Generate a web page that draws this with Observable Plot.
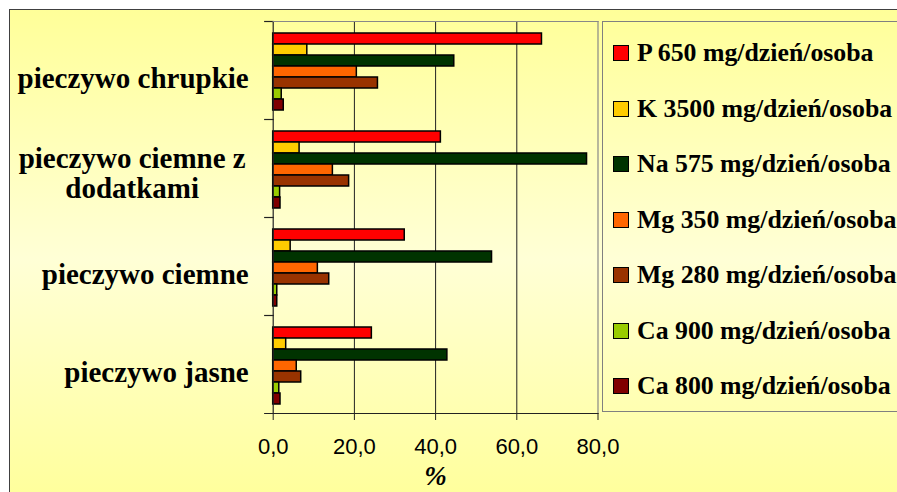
<!DOCTYPE html>
<html><head><meta charset="utf-8">
<script src="https://cdn.jsdelivr.net/npm/d3@7"></script>
<script src="https://cdn.jsdelivr.net/npm/@observablehq/plot@0.6"></script>
<style>
html,body{margin:0;padding:0;background:#fff;}
#wrap{position:relative;width:897px;height:492px;overflow:hidden;}
#bg{position:absolute;left:9px;top:9px;width:900px;height:500px;border:1.5px solid #404040;box-sizing:border-box;
  background:linear-gradient(#FFFF99 0%, #FFFFD6 50%, #FFFF99 100%);}
#chart{position:absolute;left:0;top:0;}
#legend{position:absolute;left:602px;top:21px;width:310px;height:391px;border:1.5px solid #808080;box-sizing:border-box;
  padding-top:3.5px;font:bold 25.8px "Liberation Serif","Times New Roman",serif;color:#000;}
.item{display:flex;align-items:center;height:55.5px;white-space:nowrap;}
.sw{width:14px;height:14px;border:1px solid #000;margin-left:10px;margin-right:8px;flex:none;}
g[aria-label="x-axis label"] text{font:italic bold 27px "Liberation Serif","Times New Roman",serif;}
</style>
</head><body>
<div id="wrap"><div id="bg"></div><div id="chart"></div><div id="legend"></div></div>
<script>
const categories = ["pieczywo chrupkie", "pieczywo ciemne z dodatkami", "pieczywo ciemne", "pieczywo jasne"];
const categoryLabels = ["pieczywo chrupkie", "pieczywo ciemne z\ndodatkami", "pieczywo ciemne", "pieczywo jasne"];
const series = ["P 650 mg/dzień/osoba", "K 3500 mg/dzień/osoba", "Na 575 mg/dzień/osoba", "Mg 350 mg/dzień/osoba", "Mg 280 mg/dzień/osoba", "Ca 900 mg/dzień/osoba", "Ca 800 mg/dzień/osoba"];
const colors = ["#FF0000", "#FFCC00", "#003300", "#FF6600", "#993300", "#99CC00", "#800000"];
// values per series, in category order
const valP     = [66.2, 41.3, 32.4, 24.3];
const valK     = [8.4, 6.5, 4.3, 3.2];
const valNa    = [44.6, 77.3, 53.9, 42.9];
const valMg350 = [20.6, 14.7, 11.0, 5.8];
const valMg280 = [25.8, 18.7, 13.8, 6.9];
const valCa900 = [2.1, 1.7, 1.0, 1.5];
const valCa800 = [2.6, 1.8, 1.0, 1.8];
const xTicks = [0, 20, 40, 60, 80];

const seriesValues = [valP, valK, valNa, valMg350, valMg280, valCa900, valCa800];
const data = [];
categories.forEach((c, i) => series.forEach((s, j) => data.push({category: c, series: s, value: seriesValues[j][i]})));
const labelRows = categories.map((c, i) => ({category: c, label: categoryLabels[i]}));

const W = 897, H = 492, mL = 272.7, mR = 299.5, mT = 21, mB = 79;
const plotW = W - mL - mR;
const serif = "Liberation Serif, Times New Roman, serif";

const plot = Plot.plot({
  width: W, height: H,
  marginLeft: mL, marginRight: mR, marginTop: mT, marginBottom: mB,
  style: {background: "transparent", fontFamily: "Liberation Sans, Arial, sans-serif", color: "#000"},
  x: {domain: [0, 80]},
  y: {domain: series, axis: null, paddingInner: 0, paddingOuter: 0.72, align: 0.57},
  fy: {domain: categories, axis: null, padding: 0},
  color: {domain: series, range: colors},
  marks: [
    Plot.ruleX(xTicks.slice(1, -1), {stroke: "#222", strokeWidth: 1}),
    Plot.ruleX([80], {stroke: "#888", strokeWidth: 1.2}),
    Plot.barX(data, {fy: "category", y: "series", x: "value", fill: "series", stroke: "#000", strokeWidth: 1.5}),
    Plot.ruleX([0], {stroke: "#222", strokeWidth: 1.2}),
    Plot.frame({anchor: "top", stroke: "#222", strokeWidth: 1.2, insetLeft: -8.5, insetRight: plotW}),
    Plot.frame({anchor: "top", stroke: "#888", strokeWidth: 1.2, fy: () => categories[0]}),
    Plot.frame({anchor: "bottom", stroke: "#222", strokeWidth: 1.2, insetLeft: -8.5, fy: () => categories[categories.length - 1]}),
    Plot.axisX({ticks: xTicks, tickFormat: d => d.toFixed(1).replace(".", ","), tickSize: 7, tickPadding: 18,
      fontSize: 22, stroke: "#222", label: "%", labelAnchor: "center", labelArrow: "none", labelOffset: 71}),
    Plot.text(labelRows.filter(d => !d.label.includes("\n")), {fy: "category", text: "label", frameAnchor: "left",
      textAnchor: "end", dx: -24.5, dy: 8, fontSize: 29, fontWeight: "bold", fontFamily: serif}),
    Plot.text(labelRows.filter(d => d.label.includes("\n")), {fy: "category", text: "label", frameAnchor: "left",
      textAnchor: "middle", dx: -141, dy: 5, lineHeight: 1.04, fontSize: 29, fontWeight: "bold", fontFamily: serif})
  ]
});
document.getElementById("chart").appendChild(plot);

const color = plot.scale("color");
const legend = document.getElementById("legend");
color.domain.forEach((s, i) => {
  const row = document.createElement("div");
  row.className = "item";
  const sw = document.createElement("div");
  sw.className = "sw";
  sw.style.background = color.range[i];
  const t = document.createElement("span");
  t.textContent = s;
  row.appendChild(sw); row.appendChild(t);
  legend.appendChild(row);
});
</script>
</body></html>
